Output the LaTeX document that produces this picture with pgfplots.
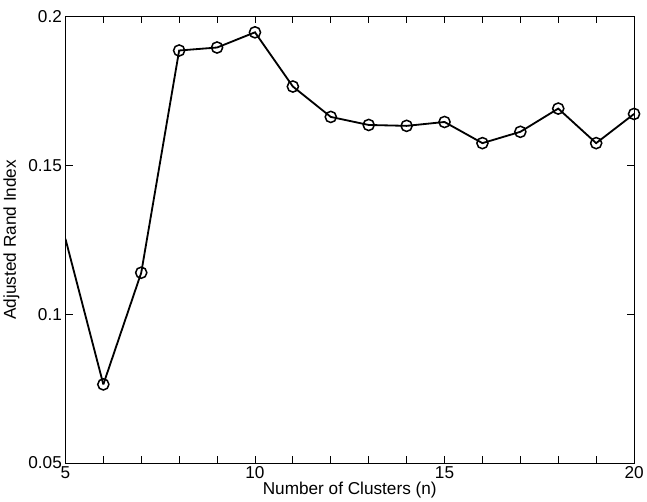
\documentclass[border=0pt]{standalone}
\usepackage{pgfplots}
\pgfplotsset{compat=1.18}
\usepackage{fontspec}
\setmainfont{Liberation Sans}
\begin{document}
\begin{tikzpicture}
\begin{axis}[
  width=560bp, height=440bp, scale only axis,
  xmin=5, xmax=20, ymin=0.05, ymax=0.2,
  xtick={5,10,15,20}, ytick={0.05,0.1,0.15,0.2},
  minor xtick={6,7,8,9,11,12,13,14,16,17,18,19},
  minor y tick num=0,
  tick align=inside, xtick pos=both, ytick pos=both,
  major tick length=7bp, minor tick length=7bp,
  yticklabel style={/pgf/number format/fixed,/pgf/number format/precision=2},
  /pgf/number format/assume math mode=true,
  tick label style={font=\fontsize{17}{20}\selectfont},
  label style={font=\fontsize{17}{20}\selectfont},
  xlabel={Number of Clusters (n)}, ylabel={Adjusted Rand Index},
  xlabel style={yshift=4bp}, ylabel style={yshift=2bp},
  axis line style={line width=1pt}, every tick/.style={line width=0.8pt,black},
  clip=true,
]
\addplot[black, line width=1.8pt] coordinates {(5,0.1253)(6,0.0764)};
\addplot[black, line width=1.8pt, mark=o, mark size=5.5bp, mark options={line width=1.5pt}] coordinates {
(6,0.0764)(7,0.1139)(8,0.1885)(9,0.1895)(10,0.1946)(11,0.1764)(12,0.1662)(13,0.1635)(14,0.1632)(15,0.1645)(16,0.1574)(17,0.1612)(18,0.1690)(19,0.1574)(20,0.1672)};
\end{axis}
\path (current axis.north east) ++(8bp,16bp) coordinate (a);
\path[use as bounding box] (a) rectangle (current axis.south west);
\path (current axis.south west) ++(-75bp,-46bp) coordinate (b);
\path[use as bounding box] (a) rectangle (b);
\end{tikzpicture}
\end{document}
